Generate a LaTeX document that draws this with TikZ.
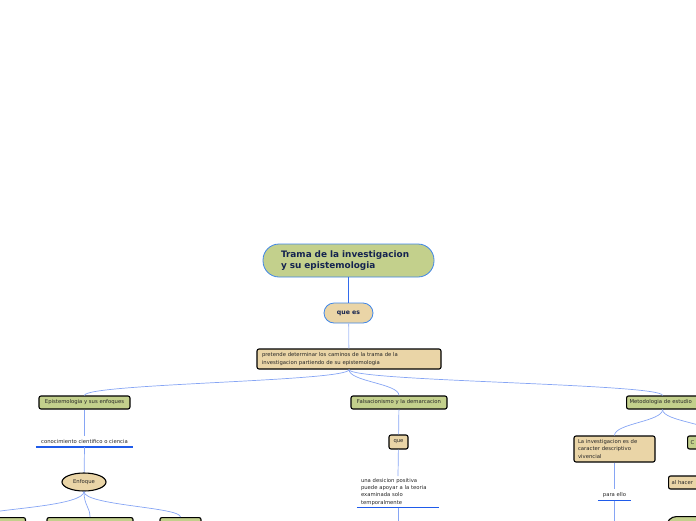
\documentclass[tikz,border=0pt]{standalone}
\usepackage{fontspec}
\setmainfont{DejaVu Sans}
\usetikzlibrary{shapes.geometric}

\definecolor{mapgreen}{HTML}{C3D08C}
\definecolor{maptan}{HTML}{EAD5A7}
\definecolor{rimblue}{HTML}{3F86E8}
\definecolor{linkblue}{HTML}{86A5F4}
\definecolor{barblue}{HTML}{1F5BEA}
\definecolor{inkblue}{HTML}{14234F}

\begin{document}
\begin{tikzpicture}[
  x=1pt, y=-1pt,
  small/.style={font=\fontsize{5.3}{7.3}\selectfont, text=black!85},
  topic/.style={small, draw=black, line width=1.1pt, rounded corners=2pt,
    fill=mapgreen, inner sep=0pt},
  note/.style={small, draw=black, line width=1.1pt, rounded corners=2pt,
    fill=maptan, inner sep=0pt},
  label/.style={small, inner sep=0pt},
  link/.style={linkblue, line width=0.7pt},
  bar/.style={barblue, line width=1.1pt}
]
\useasboundingbox (0,0) rectangle (696,520);
\clip (0,0) rectangle (696,520);

% central topic
\node[draw=rimblue, line width=0.8pt, fill=mapgreen, rounded corners=16pt,
  minimum width=171, minimum height=33, inner sep=0pt, align=left, text width=135,
  text=inkblue, font=\fontsize{8.9}{11}\selectfont\bfseries]
  (root) at (348.5,260.5) {Trama de la investigacion\\y su epistemologia};
\node[draw=rimblue, line width=0.8pt, fill=maptan, rounded corners=10pt,
  minimum width=49, minimum height=20, inner sep=0pt,
  text=inkblue, font=\fontsize{6.2}{7}\selectfont\bfseries]
  (quees) at (348.5,313) {que es};
\node[note, minimum width=184, minimum height=20, align=left, text width=174]
  (pretende) at (349,359)
  {pretende determinar los caminos de la trama de la\\investigacion partiendo de su epistemologia};

\draw[rimblue!80!blue, line width=1pt] (root) -- (quees);
\draw[linkblue!70, line width=0.8pt] (quees) -- (pretende);

% main branches
\node[topic, minimum width=91, minimum height=13] (epis) at (84.5,402.5) {Epistemologia y sus enfoques};
\node[topic, minimum width=96, minimum height=13] (falsa) at (399,402.5) {Falsacionismo y la demarcacion};
\node[topic, minimum width=72, minimum height=13, anchor=west, text width=66] (metodo) at (626,402.5) {Metodologia de estudio};

\foreach \t in {epis,falsa,metodo}
  \draw[link] (pretende.south) .. controls +(0,12) and +(0,-12) .. (\t.north);

% left branch
\node[label, minimum width=97, minimum height=11, anchor=south] (conoc) at (84.5,447) {conocimiento cientifico o ciencia};
\draw[bar] (conoc.south west) -- (conoc.south east);
\node[ellipse, draw=black, line width=1.1pt, fill=maptan, small, minimum width=44,
  minimum height=18, inner sep=0pt] (enfoque) at (84,482) {Enfoque};
\draw[link] (epis) -- (conoc.north);
\draw[link] (conoc.south) -- (enfoque);

\node[topic, minimum width=56, minimum height=20, anchor=north east] (enfa) at (26,517) {};
\node[topic, minimum width=86, minimum height=20, anchor=north] (enfb) at (90,517) {};
\node[topic, minimum width=41, minimum height=20, anchor=north] (enfc) at (180.5,517) {};
\draw[link] (enfoque.south) .. controls +(0,14) and +(10,-4) .. (-10,513);
\draw[link] (enfoque.south) .. controls +(0,14) and +(0,-10) .. (enfb.north);
\draw[link] (enfoque.south) .. controls +(0,14) and +(0,-10) .. (enfc.north);

% middle branch
\node[note, minimum width=19, minimum height=14] (que) at (398.5,442) {que};
\node[label, text width=74, align=left, minimum width=82, inner xsep=4pt,
  inner ysep=2pt, anchor=south] (desicion) at (398,507.5)
  {una desicion positiva\\puede apoyar a la teoria\\examinada solo\\temporalmente};
\draw[bar] (desicion.south west) -- (desicion.south east);
\coordinate (midend) at (398,525);
\draw[link] (falsa) -- (que);
\draw[link] (que) -- (desicion.north);
\draw[link] (desicion.south) -- (midend);

% right branch
\node[note, minimum width=81, minimum height=26, text width=73, align=left]
  (vivencial) at (614.5,449) {La investigacion es de\\caracter descriptivo\\vivencial};
\node[topic, minimum width=56, minimum height=13, anchor=west, text width=50, align=left]
  (ccaja) at (687,442.5) {C};
\node[note, minimum width=64, minimum height=13, anchor=west, text width=58, align=left]
  (hacer) at (668,482.5) {al hacer};
\node[draw=black, line width=1.1pt, fill=mapgreen, rounded corners=10pt,
  minimum width=90, minimum height=24, anchor=north west, inner sep=0pt]
  (pill) at (666,516) {};
\draw[link] (metodo.south) .. controls +(0,12) and +(0,-12) .. (vivencial.north);
\draw[link] (metodo.south) .. controls +(0,12) and +(0,-12) .. (ccaja.north);

\node[label, minimum width=33, minimum height=11, anchor=south] (paraello) at (614.5,500.5) {para ello};
\draw[bar] (paraello.south west) -- (paraello.south east);
\coordinate (rightend) at (614.5,525);
\draw[link] (vivencial) -- (paraello.north);
\draw[link] (paraello.south) -- (rightend);

\end{tikzpicture}
\end{document}
